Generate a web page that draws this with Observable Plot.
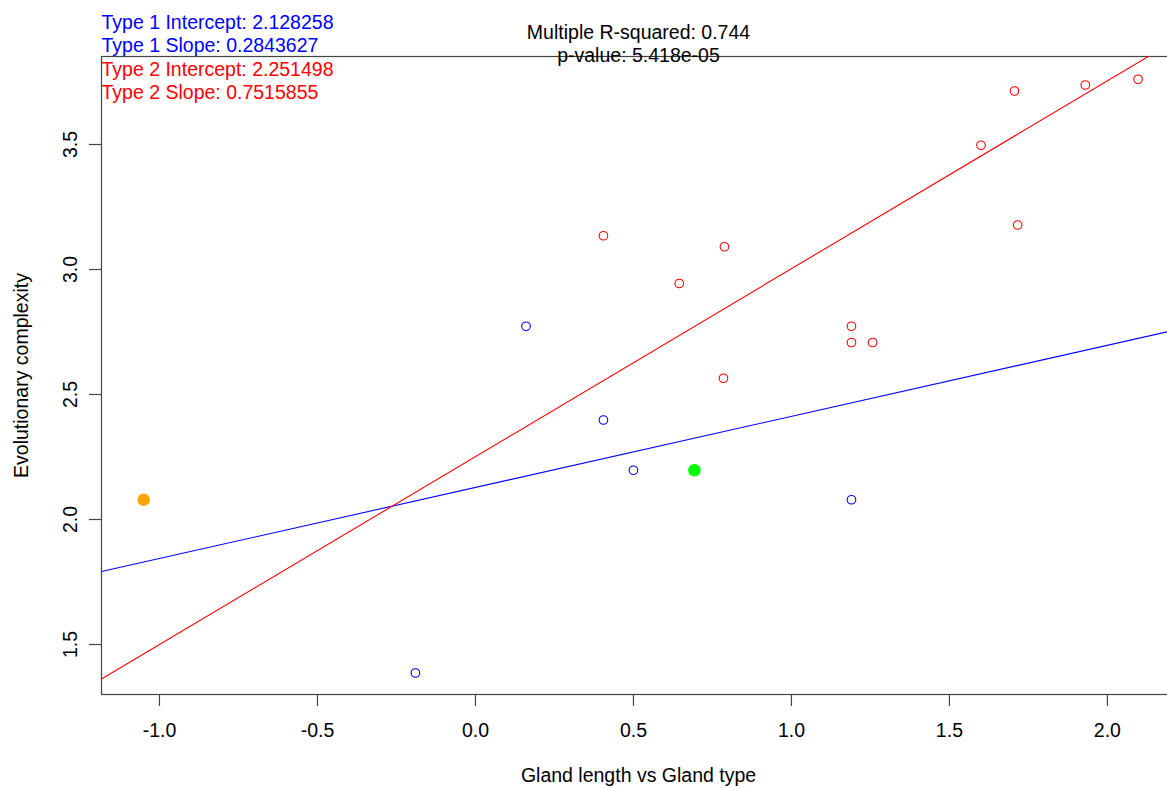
<!DOCTYPE html>
<html>
<head>
<meta charset="utf-8">
<script src="https://cdn.jsdelivr.net/npm/d3@7"></script>
<script src="https://cdn.jsdelivr.net/npm/@observablehq/plot@0.6"></script>
<style>
  html, body { margin: 0; padding: 0; background: #fff; overflow: hidden; }
  svg { display: block; max-width: none !important; }
</style>
</head>
<body>
<div id="chart"></div>
<script>
// Type 1 points (blue)
const type1X = [0.16, 0.405, 0.5, 1.19, -0.19];
const type1Y = [2.773, 2.398, 2.197, 2.079, 1.386];
// Type 2 points (red)
const type2X = [0.405, 0.645, 0.788, 0.785, 1.19, 1.19, 1.257, 1.6, 1.706, 1.716, 1.93, 2.097];
const type2Y = [3.135, 2.944, 3.091, 2.565, 2.773, 2.708, 2.708, 3.497, 3.714, 3.178, 3.738, 3.761];
// Highlighted points
const orangeX = [-1.05];
const orangeY = [2.079];
const greenX = [0.693];
const greenY = [2.197];
// Fits
const fitNames = ["Type 1", "Type 2"];
const fitIntercepts = [2.128258, 2.251498];
const fitSlopes = [0.2843627, 0.7515855];
const fitColors = ["#0000FF", "#FF0000"];
// Ticks
const xTicks = [-1.0, -0.5, 0.0, 0.5, 1.0, 1.5, 2.0];
const yTicks = [1.5, 2.0, 2.5, 3.0, 3.5];
const rSquared = "0.744";
const pValue = "5.418e-05";

const xDomain = [-1.1835, 2.2155];
const yDomain = [1.30, 3.852];

const pts = (xs, ys) => xs.map((x, i) => ({x, y: ys[i]}));
const fits = fitNames.map((n, i) => ({
  name: n, color: fitColors[i],
  x1: xDomain[0], y1: fitIntercepts[i] + fitSlopes[i] * xDomain[0],
  x2: xDomain[1], y2: fitIntercepts[i] + fitSlopes[i] * xDomain[1]
}));
const FS = 19.5;
const font = "'Liberation Sans', Arial, sans-serif";
const axisColor = "#444";

const label = (t, opts) => Plot.text([t], {text: d => d, fontSize: FS, lineAnchor: "bottom", ...opts});

const chart = Plot.plot({
  width: 1176,
  height: 788,
  marginLeft: 101,
  marginRight: 1,
  marginTop: 56,
  marginBottom: 94,
  style: {fontFamily: font, fontSize: FS + "px", background: "#fff", color: "#000", overflow: "visible"},
  x: {domain: xDomain},
  y: {domain: yDomain},
  marks: [
    Plot.frame({stroke: axisColor, strokeWidth: 1.2}),
    Plot.axisX({ticks: xTicks, tickSize: 12, tickPadding: 17, tickFormat: d => d.toFixed(1), fontSize: FS, label: null, stroke: axisColor, strokeWidth: 1.2, fill: "#000"}),
    Plot.axisY({ticks: yTicks, tickSize: 12, tickFormat: () => "", label: null, stroke: axisColor, strokeWidth: 1.2}),
    Plot.text(yTicks, {y: d => d, frameAnchor: "left", text: d => d.toFixed(1), rotate: -90, dx: -25, textAnchor: "middle", lineAnchor: "bottom", fontSize: FS, fill: "#000"}),
    label("Evolutionary complexity", {frameAnchor: "left", rotate: -90, dx: -74, textAnchor: "middle", fill: "#000"}),
    label("Gland length vs Gland type", {frameAnchor: "bottom", dy: 87, textAnchor: "middle", fill: "#000"}),
    Plot.link(fits, {x1: "x1", y1: "y1", x2: "x2", y2: "y2", stroke: "color", strokeWidth: 1.1, clip: true}),
    Plot.dot(pts(type1X, type1Y), {x: "x", y: "y", r: 4.3, stroke: "#0000FF", strokeWidth: 1.1, fill: "none"}),
    Plot.dot(pts(type2X, type2Y), {x: "x", y: "y", r: 4.3, stroke: "#FF0000", strokeWidth: 1.1, fill: "none"}),
    Plot.dot(pts(orangeX, orangeY), {x: "x", y: "y", r: 5, stroke: "#FFA500", strokeWidth: 2.5, fill: "#FFA500"}),
    Plot.dot(pts(greenX, greenY), {x: "x", y: "y", r: 5, stroke: "#00FF00", strokeWidth: 2.5, fill: "#00FF00"}),
    label(`Type 1 Intercept: ${fitIntercepts[0]}`, {frameAnchor: "top-left", dy: -28, textAnchor: "start", fill: fitColors[0]}),
    label(`Type 1 Slope: ${fitSlopes[0]}`, {frameAnchor: "top-left", dy: -5, textAnchor: "start", fill: fitColors[0]}),
    label(`Type 2 Intercept: ${fitIntercepts[1]}`, {frameAnchor: "top-left", dy: 19, textAnchor: "start", fill: fitColors[1]}),
    label(`Type 2 Slope: ${fitSlopes[1]}`, {frameAnchor: "top-left", dy: 42, textAnchor: "start", fill: fitColors[1]}),
    label(`Multiple R-squared: ${rSquared}`, {frameAnchor: "top", dy: -18, textAnchor: "middle", fill: "#000"}),
    label(`p-value: ${pValue}`, {frameAnchor: "top", dy: 5, textAnchor: "middle", fill: "#000"})
  ]
});
document.getElementById("chart").appendChild(chart);
</script>
</body>
</html>
